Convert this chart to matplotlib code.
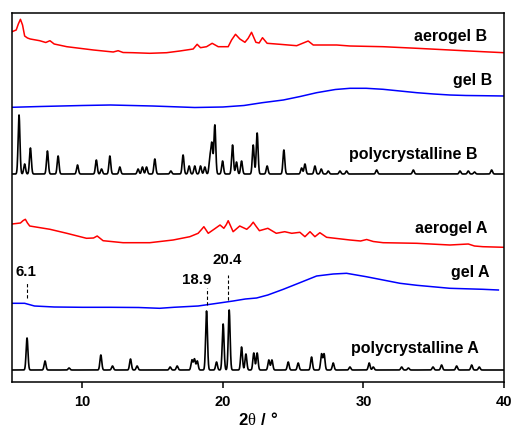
import numpy as np
import matplotlib
matplotlib.use("Agg")
import matplotlib.pyplot as plt

plt.rcParams['font.family'] = ['Liberation Sans', 'DejaVu Sans']
plt.rcParams['mathtext.fontset'] = 'custom'
plt.rcParams['mathtext.rm'] = 'Liberation Serif'
plt.rcParams['mathtext.bf'] = 'Liberation Sans:bold'

# ---------------- data (2theta in degrees, intensity in arbitrary units) ----------------
# polycrystalline A: peak positions and heights
polyA_pos = [6.07, 7.35, 9.06, 11.32, 12.15, 13.43, 13.9, 16.25, 16.75, 17.8, 17.98, 18.18,
             18.84, 19.55, 20.02, 20.45, 21.33, 21.64, 22.2, 22.44, 23.27, 23.49, 24.65, 25.36,
             26.31, 27.02, 27.2, 27.85, 29.04, 30.41, 30.7, 32.72, 33.2, 34.95, 35.56, 36.63,
             37.7, 38.24]
polyA_int = [32, 9, 2, 15, 4, 11, 4, 3, 4, 10, 11, 9,
             59, 8, 46, 60, 23, 16, 17, 17, 10, 10, 8, 7,
             13, 16, 16, 7, 3, 7, 3, 3, 2, 3, 5, 4,
             5, 3]

# polycrystalline B: peak positions and heights
polyB_pos = [5.5, 5.9, 6.31, 7.52, 8.28, 9.66, 11.0, 11.37, 11.96, 12.67, 13.97, 14.28, 14.57,
             15.16, 16.3, 17.17, 17.6, 18.0, 18.41, 18.72, 19.08, 19.22, 19.43, 19.98, 20.69,
             20.97, 21.33, 22.16, 22.44, 23.15, 24.34, 25.6, 25.84, 26.55, 27.0, 27.5, 28.33,
             28.8, 30.94, 33.55, 36.87, 37.46, 37.9, 39.12]
polyB_int = [59, 10, 26, 23, 18, 9, 14, 5, 18, 7, 5, 7, 7,
             15, 3, 19, 8, 8, 8, 7, 16, 30, 49, 13, 29,
             12, 13, 29, 41, 8, 24, 6, 10, 8, 5, 3, 3,
             3, 4, 4, 3, 3, 2, 4]

# gel A
gelA_x = [5.0, 5.9, 6.6, 8.0, 10.0, 12.0, 14.0, 15.5, 16.5, 18.24, 19.6, 20.73, 21.6, 22.4,
          23.2, 24.3, 25.48, 26.67, 27.85, 28.8, 30.2, 31.4, 32.6, 33.8, 36.15, 38.5, 39.6]
gelA_y = [5.2, 5.2, 2.5, 1.5, 1.2, 1.2, 1.0, 0.2, 1.2, 2.5, 5.2, 7.5, 9.5, 10.5,
          13.5, 19.2, 25.8, 32.5, 34.5, 35.2, 31.8, 28.5, 25.2, 23.2, 20.2, 19.2, 18.5]

# aerogel A
aeroA_x = [5.0, 5.6, 5.8, 5.95, 6.1, 6.26, 7.7, 8.9, 10.3, 10.8, 11.06, 11.48, 12.9, 14.8,
           16.46, 17.65, 18.24, 18.45, 18.65, 18.96, 19.4, 19.8, 20.07, 20.25, 20.38, 20.55,
           20.73, 21.2, 21.7, 21.95, 22.16, 22.35, 22.6, 23.2, 23.8, 24.4, 24.9, 25.48, 25.84,
           26.2, 26.55, 26.9, 27.38, 29.04, 29.8, 30.23, 30.7, 31.4, 33.8, 36.15, 37.46, 37.9,
           38.5, 40.0]
aeroA_y = [24, 25, 27.5, 28.7, 25, 22, 18.7, 14.7, 9.7, 10, 12, 7.3, 5.3, 5.3,
           8, 11.3, 14.7, 18, 21.3, 14.7, 19, 23, 19.7, 23.5, 27.3, 22,
           16.3, 22, 18.7, 22, 25.8, 22, 17.3, 19.7, 14.7, 16.3, 14.7, 15.7, 11.3,
           16.3, 11.3, 15.3, 10.7, 8, 7, 8.5, 6.5, 5.3, 4.7, 3, 4, 2,
           1.3, 0.7]

# gel B
gelB_x = [5.0, 7.0, 10.0, 12.0, 15.0, 18.0, 20.0, 21.5, 22.8, 24.3, 25.5, 26.67, 28.0, 29.04,
          30.2, 31.4, 32.6, 33.8, 35.0, 36.15, 37.3, 38.5, 40.0]
gelB_y = [0.7, 1.5, 2.5, 3.0, 2.0, 0.5, 1.0, 2.5, 5.3, 8.0, 11.5, 15.3, 18.5, 19.7,
          19.7, 18.7, 17.0, 15.3, 14.0, 13.0, 12.5, 12.3, 12.0]

# aerogel B
aeroB_x = [5.0, 5.3, 5.45, 5.6, 5.75, 5.9, 6.1, 6.3, 6.97, 7.4, 7.7, 8.0, 8.9, 10.8, 12.2,
           12.55, 12.9, 13.6, 14.8, 16.0, 16.94, 17.89, 18.17, 18.41, 18.84, 19.24, 19.67,
           20.38, 20.62, 20.9, 21.21, 21.57, 21.8, 22.04, 22.35, 22.58, 22.82, 23.15, 24.06,
           25.25, 26.07, 26.43, 28.1, 29.04, 31.4, 33.8, 36.15, 38.5, 40.0]
aeroB_y = [22.3, 24, 30, 34.7, 29, 18, 16, 15, 13.3, 11.5, 13.3, 10, 7.3, 4, 2,
           3.3, 1.5, 1.3, 0.7, 1.3, 3, 5, 9.7, 6.3, 7.3, 10.7, 7.3,
           7.3, 14, 19.7, 15, 11.7, 15.7, 21.7, 11.7, 11, 16.3, 10.7, 9.7,
           8.3, 13, 9, 9, 8, 7.3, 5.7, 4, 2.3, 1.3]

labels = ['polycrystalline A', 'gel A', 'aerogel A', 'polycrystalline B', 'gel B', 'aerogel B']
annot_pos = [6.1, 18.9, 20.4]
annot_txt = ['6.1', '18.9', '20.4']

# ---------------- layout / style ----------------
offsets = [12, 73.5, 134, 208, 274, 328]
label_x = [38.22, 39.0, 38.79, 38.15, 39.15, 38.79]
label_y = [34, 109, 154, 227, 302, 346]
annot_text_xy = [(5.98, 110), (18.15, 102), (20.28, 122)]
annot_line = [(84, 100), (77, 94), (82, 107)]

fig = plt.figure(figsize=(5.14, 4.32), dpi=100)
ax = fig.add_axes([12 / 514, 50 / 432, 492 / 514, 369 / 432])

grid = np.arange(5.0, 40.0001, 0.01)


def pattern(pos, inten, sigma=0.065):
    p = np.asarray(pos)[:, None]
    h = np.asarray(inten)[:, None]
    return (h * np.exp(-0.5 * ((grid[None, :] - p) / sigma) ** 2)).sum(axis=0)


ax.plot(grid, pattern(polyA_pos, polyA_int) + offsets[0], color='black', lw=1.2)
ax.plot(gelA_x, np.asarray(gelA_y) + offsets[1], color='#0000ff', lw=1.1)
ax.plot(aeroA_x, np.asarray(aeroA_y) + offsets[2], color='#ff0000', lw=1.1)
ax.plot(grid, pattern(polyB_pos, polyB_int) + offsets[3], color='black', lw=1.2)
ax.plot(gelB_x, np.asarray(gelB_y) + offsets[4], color='#0000ff', lw=1.1)
ax.plot(aeroB_x, np.asarray(aeroB_y) + offsets[5], color='#ff0000', lw=1.1)

for lab, xx, yy in zip(labels, label_x, label_y):
    ax.text(xx, yy, lab, ha='right', va='center', fontsize=11.5, fontweight='bold')

for p, t, (tx, ty), (y0, y1) in zip(annot_pos, annot_txt, annot_text_xy, annot_line):
    ax.plot([p, p], [y0, y1], color='black', lw=0.8, ls=(0, (3, 2)))
    ax.text(tx, ty, t, ha='center', va='center', fontsize=10.8, fontweight='bold')

ax.set_xlim(5, 40)
ax.set_ylim(0, 369)
ax.set_yticks([])
ax.set_xticks([10, 20, 30, 40])
ax.tick_params(axis='x', direction='out', length=4.5, width=1.1, pad=5, labelsize=10.5)
for lab in ax.get_xticklabels():
    lab.set_fontweight('bold')
for s in ax.spines.values():
    s.set_linewidth(1.1)
ax.set_xlabel(r'$\mathbf{2}\mathrm{\theta}\mathbf{\ /\ °}$', fontsize=12, labelpad=1)

fig.savefig('out.png', dpi=100)
